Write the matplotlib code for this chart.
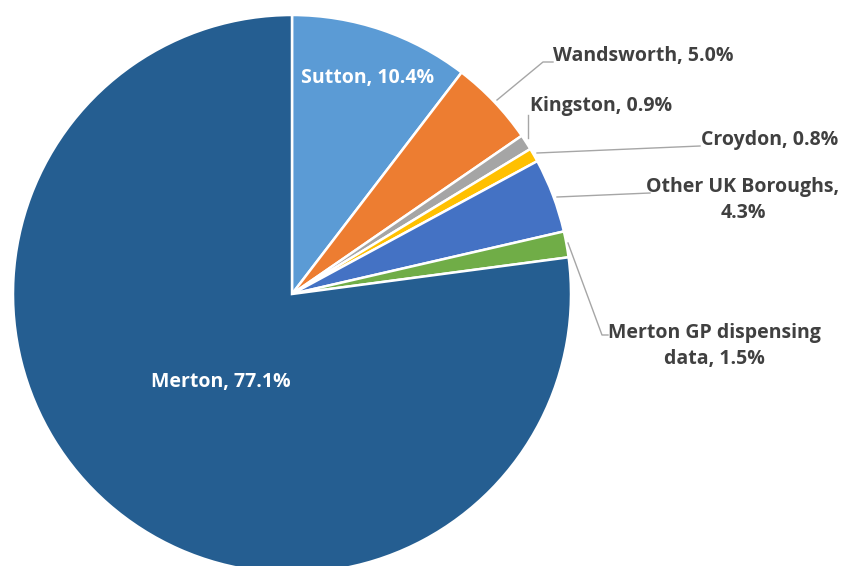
import matplotlib
matplotlib.use('Agg')
import matplotlib.pyplot as plt

# slice data, clockwise from 12 o'clock
labels = ['Sutton', 'Wandsworth', 'Kingston', 'Croydon', 'Other UK Boroughs',
          'Merton GP dispensing data', 'Merton']
shares = [10.4, 5.0, 0.9, 0.8, 4.3, 1.5, 77.1]
colors = ['#5B9BD5', '#ED7D31', '#A5A5A5', '#FFC000', '#4472C4', '#70AD47', '#255E91']

W, H = 843, 566
plt.rcParams['font.family'] = ['Open Sans', 'DejaVu Sans']

fig = plt.figure(figsize=(W / 100, H / 100), dpi=100)
ax = fig.add_axes([0, 0, 1, 1])

def Y(py):
    # pixel row -> data y
    return H - py

cx, cy, r = 292, Y(294), 279
ax.pie(shares, colors=colors, startangle=90, counterclock=False,
       center=(cx, cy), radius=r,
       wedgeprops=dict(edgecolor='white', linewidth=1.8))
ax.set_xlim(0, W)
ax.set_ylim(0, H)
ax.set_aspect('equal')
ax.axis('off')

txt = '#404040'
lead = '#A6A6A6'
fs = 14

# labels inside the pie
ax.text(368, Y(78), f'{labels[0]}, {shares[0]}%', color='white', fontsize=fs,
        fontweight='bold', ha='center', va='center')
ax.text(221, Y(382), f'{labels[6]}, {shares[6]}%', color='white', fontsize=fs,
        fontweight='bold', ha='center', va='center')

# outside labels
ax.text(553, Y(56), f'{labels[1]}, {shares[1]}%', color=txt, fontsize=fs,
        fontweight='bold', ha='left', va='center')
ax.text(530, Y(106), f'{labels[2]}, {shares[2]}%', color=txt, fontsize=fs,
        fontweight='bold', ha='left', va='center')
ax.text(701, Y(140), f'{labels[3]}, {shares[3]}%', color=txt, fontsize=fs,
        fontweight='bold', ha='left', va='center')
ax.text(743, Y(200), f'{labels[4]},\n{shares[4]}%', color=txt, fontsize=fs,
        fontweight='bold', ha='center', va='center', linespacing=1.4)
ax.text(714, Y(346), 'Merton GP dispensing\ndata, ' + f'{shares[5]}%', color=txt,
        fontsize=fs, fontweight='bold', ha='center', va='center', linespacing=1.4)

# leader lines
ax.plot([497, 543, 553], [Y(100), Y(62), Y(62)], color=lead, lw=1)
ax.plot([528, 528], [Y(138), Y(115)], color=lead, lw=1)
ax.plot([537, 700], [Y(153), Y(146)], color=lead, lw=1)
ax.plot([557, 650], [Y(197), Y(193)], color=lead, lw=1)
ax.plot([568, 602, 608], [Y(243), Y(335), Y(335)], color=lead, lw=1)

fig.savefig('out.png', dpi=100)
